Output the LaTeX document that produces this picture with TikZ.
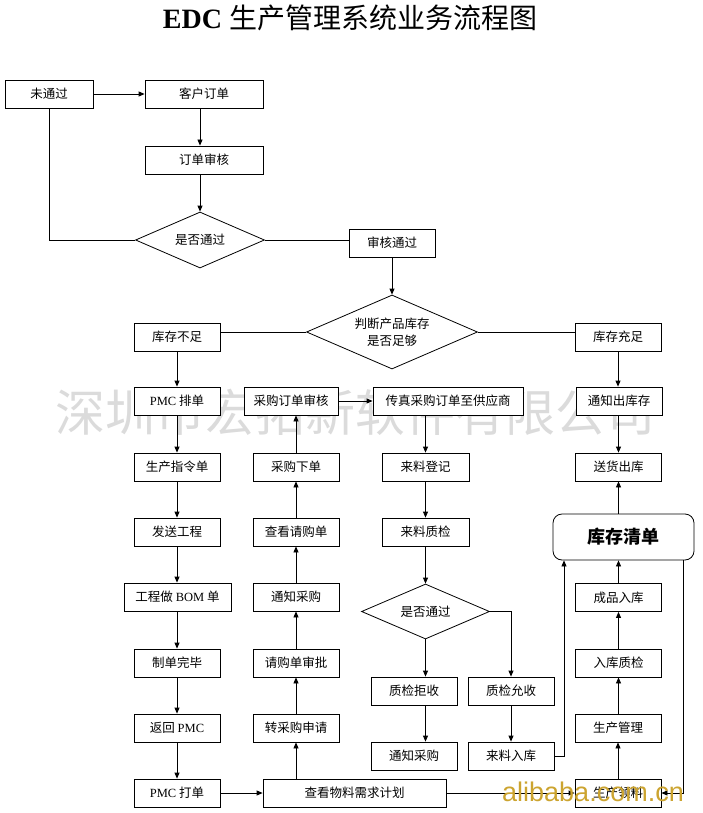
\documentclass[tikz,border=0pt]{standalone}
\usepackage{fontspec}
\setmainfont{Liberation Serif}
\newfontfamily\cjk{Noto Sans CJK SC}
\newfontfamily\wmsans{Liberation Sans}
\usetikzlibrary{shapes.geometric,arrows.meta}
\definecolor{wmgray}{gray}{0.86}
\definecolor{aligold}{RGB}{204,164,48}
\tikzset{
  box/.style={draw, fill=white, line width=0.8pt, minimum height=28pt, minimum width=#1, inner sep=0pt,
    font=\cjk\fontsize{12.5}{14}\selectfont},
  box/.default=86pt,
  dia/.style={draw, fill=white, diamond, line width=0.8pt, inner sep=0pt, shape aspect=2.3, align=center,
    font=\cjk\fontsize{12.5}{17}\selectfont},
  arr/.style={line width=0.8pt, -{Triangle[length=6pt,width=5pt]}},
  ln/.style={line width=0.8pt},
}
\begin{document}
\begin{tikzpicture}[x=1pt,y=-1pt]
\useasboundingbox (0,0) rectangle (703,813);
% watermark
\node (wm) at (355,412) {\cjk\fontsize{50}{50}\selectfont\color{wmgray}深圳市宏拓新软件有限公司};
% title
\node (title) at (350,18) {\fontsize{28}{30}\selectfont{\bfseries EDC} {\cjk 生产管理系统业务流程图}};
% top part
\node[box=88pt] (weitg) at (49,94) {未通过};
\node[box=118pt] (kehu) at (204,94) {客户订单};
\node[box=118pt] (shenhe) at (204,160) {订单审核};
\node[dia, minimum width=129pt, minimum height=56pt] (d1) at (200,240) {是否通过};
\node[box] (tg) at (392,243) {审核通过};
\node[dia, minimum width=171pt, minimum height=74pt] (d2) at (392,332) {判断产品库存\\是否足够};
\node[box] (buzu) at (177,337) {库存不足};
\node[box] (chongzu) at (618,337) {库存充足};
% row 1
\node[box] (pmcpd) at (177,401) {\textrm{PMC} 排单};
\node[box=94pt] (cgsh) at (291,401) {采购订单审核};
\node[box=150pt] (chuanzhen) at (448,401) {传真采购订单至供应商};
\node[box] (tzck) at (619,401) {通知出库存};
% row 2
\node[box] (zlingd) at (177,467) {生产指令单};
\node[box] (cgxd) at (296,467) {采购下单};
\node[box=87pt] (llreg) at (425.5,467) {来料登记};
\node[box] (shck) at (618.5,467) {送货出库};
% row 3
\node[box] (fsgc) at (177,532) {发送工程};
\node[box] (ckqg) at (296,532) {查看请购单};
\node[box=87pt] (lljc) at (425.5,532) {来料质检};
\node[draw, fill=white, line width=0.8pt, rounded corners=9pt, minimum width=141pt, minimum height=46pt,
  font=\cjk\fontsize{18}{20}\selectfont\bfseries] (kcqd) at (623.5,537) {库存清单};
% row 4
\node[box=107pt] (bom) at (177.5,597) {工程做 \textrm{BOM} 单};
\node[box] (tzcg) at (296,597) {通知采购};
\node[dia, minimum width=128pt, minimum height=55pt] (d3) at (425.5,611.5) {是否通过};
\node[box] (cprk) at (618.5,597.5) {成品入库};
% row 5
\node[box] (zdwb) at (177,663) {制单完毕};
\node[box] (qgsp) at (296,663) {请购单审批};
\node[box] (rkzj) at (618.5,663) {入库质检};
\node[box] (zjjs) at (414,691) {质检拒收};
\node[box] (zjys) at (511,691) {质检允收};
% row 6
\node[box] (fhpmc) at (177,728) {返回 \textrm{PMC}};
\node[box] (zcgsq) at (296,728) {转采购申请};
\node[box] (scgl) at (618,728) {生产管理};
\node[box] (tzcg2) at (414,756) {通知采购};
\node[box] (llrk) at (511,756) {来料入库};
% row 7
\node[box] (pmcdd) at (177,793) {\textrm{PMC} 打单};
\node[box=183pt] (ckwl) at (354.5,793) {查看物料需求计划};
\node[box] (scll) at (618,793) {生产领料};

% connectors top
\draw[arr] (weitg.east) -- (kehu.west);
\draw[arr] (kehu.south -| d1.north) -- (shenhe.north -| d1.north);
\draw[arr] (shenhe.south -| d1.north) -- (d1.north);
\draw[ln] (d1.west) -| (weitg.south);
\draw[ln] (d1.east) -- (d1.east -| tg.west);
\draw[arr] (tg.south) -- (d2.north);
\draw[ln] (d2.west) -- (d2.west -| buzu.east);
\draw[ln] (d2.east) -- (d2.east -| chongzu.west);
% left column
\draw[arr] (buzu.south) -- (pmcpd.north);
\draw[arr] (pmcpd.south) -- (zlingd.north);
\draw[arr] (zlingd.south) -- (fsgc.north);
\draw[arr] (fsgc.south) -- (fsgc.south |- bom.north);
\draw[arr] (bom.south -| zdwb.north) -- (zdwb.north);
\draw[arr] (zdwb.south) -- (fhpmc.north);
\draw[arr] (fhpmc.south) -- (pmcdd.north);
\draw[arr] (pmcdd.east) -- (ckwl.west);
% middle column
\draw[arr] (zcgsq.south |- ckwl.north) -- (zcgsq.south);
\draw[arr] (zcgsq.north) -- (qgsp.south);
\draw[arr] (qgsp.north) -- (tzcg.south);
\draw[arr] (tzcg.north) -- (ckqg.south);
\draw[arr] (ckqg.north) -- (cgxd.south);
\draw[arr] (cgxd.north) -- (cgxd.north |- cgsh.south);
\draw[arr] (cgsh.east) -- (chuanzhen.west);
% incoming material column
\draw[arr] (llreg.north |- chuanzhen.south) -- (llreg.north);
\draw[arr] (llreg.south) -- (lljc.north);
\draw[arr] (lljc.south) -- (d3.north);
\draw[arr] (d3.south) -- (d3.south |- zjjs.north);
\draw[arr] (d3.east) -| (zjys.north);
\draw[arr] (zjjs.south -| d3.south) -- (tzcg2.north -| d3.south);
\draw[arr] (zjys.south) -- (llrk.north);
\draw[arr] (llrk.east) -| ([xshift=-59.5pt]kcqd.south);
% right column
\draw[arr] (chongzu.south) -- (chongzu.south |- tzck.north);
\draw[arr] (tzck.south -| shck.north) -- (shck.north);
\draw[arr] (kcqd.north -| shck.south) -- (shck.south);
\draw[arr] (cprk.north) -- (cprk.north |- kcqd.south);
\draw[arr] (rkzj.north) -- (cprk.south);
\draw[arr] (scgl.north -| rkzj.south) -- (rkzj.south);
\draw[arr] (scll.north) -- (scgl.south);
\draw[arr] ([xshift=59.5pt]kcqd.south) |- (scll.east);
\draw[arr] (ckwl.east) -- (scll.west);
% alibaba watermark
\node[anchor=base west, inner sep=0pt] (ali) at (502,801) {\wmsans\fontsize{27}{27}\selectfont\color{aligold}alibaba.com.cn};
\end{tikzpicture}
\end{document}
